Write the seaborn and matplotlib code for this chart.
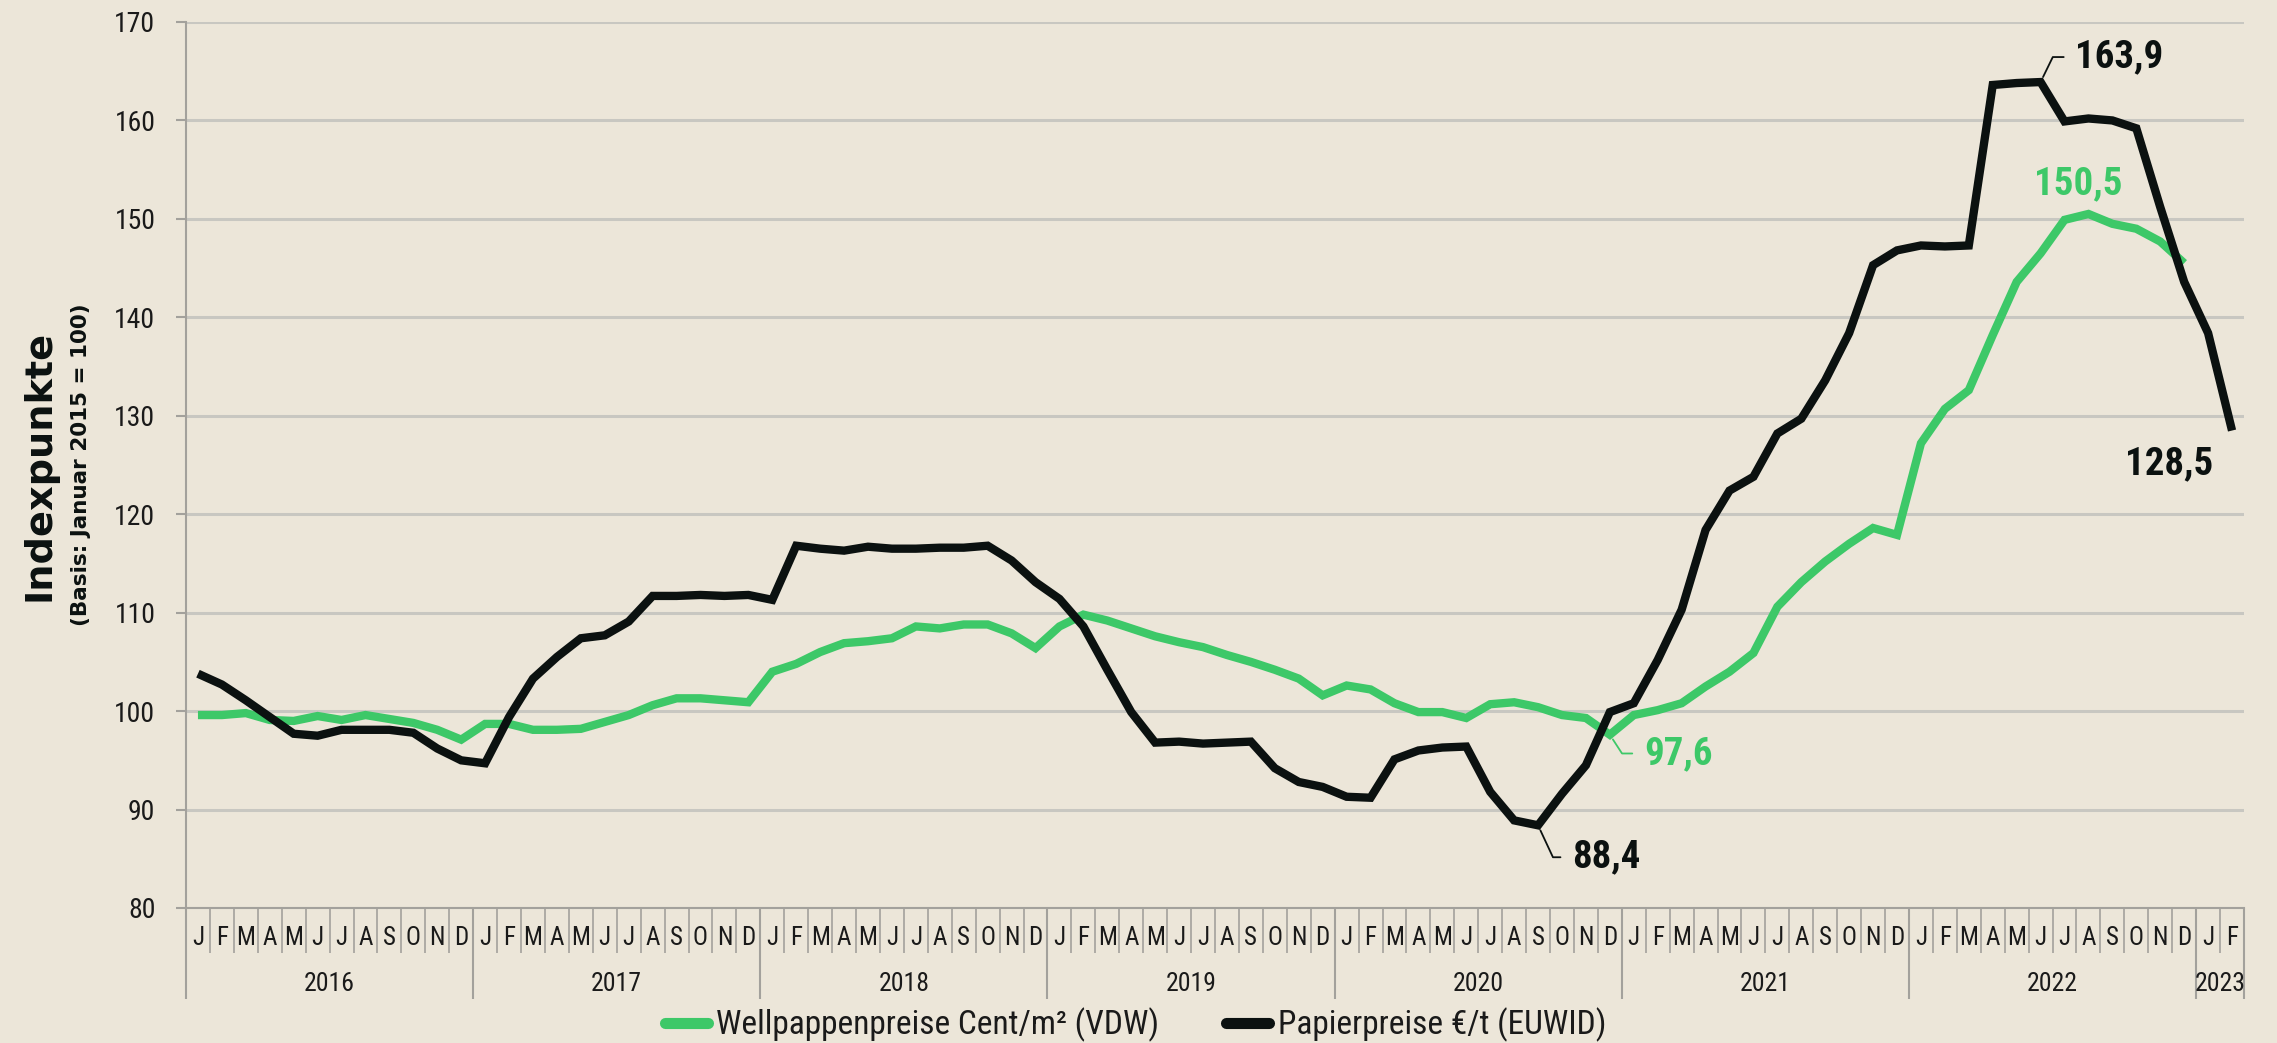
import numpy as np
import pandas as pd
import matplotlib
matplotlib.use("Agg")
import matplotlib.pyplot as plt
import seaborn as sns
from matplotlib import font_manager as fm

# ---------------- data ----------------
month_letters = ["J", "F", "M", "A", "M", "J", "J", "A", "S", "O", "N", "D"]
years = ["2016", "2017", "2018", "2019", "2020", "2021", "2022", "2023"]
months_per_year = [12, 12, 12, 12, 12, 12, 12, 2]
month_labels = month_letters * 7 + ["J", "F"]

wellpappe = [
    99.6, 99.6, 99.8, 99.1, 99.0, 99.5, 99.1, 99.6, 99.2, 98.8, 98.1, 97.1,
    98.7, 98.7, 98.1, 98.1, 98.2, 98.9, 99.6, 100.6, 101.3, 101.3, 101.1, 100.9,
    104.0, 104.8, 106.0, 106.9, 107.1, 107.4, 108.6, 108.4, 108.8, 108.8, 107.9, 106.4,
    108.6, 109.8, 109.2, 108.4, 107.6, 107.0, 106.5, 105.7, 105.0, 104.2, 103.3, 101.6,
    102.6, 102.2, 100.8, 99.9, 99.9, 99.3, 100.7, 100.9, 100.4, 99.6, 99.3, 97.6,
    99.6, 100.1, 100.8, 102.5, 104.0, 105.9, 110.6, 113.1, 115.2, 117.0, 118.6, 117.9,
    127.2, 130.7, 132.6, 138.2, 143.6, 146.5, 149.9, 150.5, 149.5, 149.0, 147.7, 145.5,
]
papier = [
    103.8, 102.7, 101.1, 99.4, 97.7, 97.5, 98.1, 98.1, 98.1, 97.8, 96.2, 95.0,
    94.7, 99.4, 103.3, 105.5, 107.4, 107.7, 109.1, 111.7, 111.7, 111.8, 111.7, 111.8,
    111.3, 116.8, 116.5, 116.3, 116.7, 116.5, 116.5, 116.6, 116.6, 116.8, 115.3, 113.1,
    111.4, 108.6, 104.2, 99.9, 96.8, 96.9, 96.7, 96.8, 96.9, 94.2, 92.8, 92.3,
    91.3, 91.2, 95.1, 96.0, 96.3, 96.4, 91.8, 88.9, 88.4, 91.6, 94.5, 99.9,
    100.8, 105.2, 110.3, 118.4, 122.4, 123.8, 128.2, 129.7, 133.6, 138.4, 145.3, 146.8,
    147.3, 147.2, 147.3, 163.6, 163.8, 163.9, 159.9, 160.2, 160.0, 159.2, 151.2, 143.6,
    138.4, 128.5,
]
label_well = "Wellpappenpreise Cent/m² (VDW)"
label_pap = "Papierpreise €/t (EUWID)"
ylabel_main = "Indexpunkte"
ylabel_sub = "(Basis: Januar 2015 = 100)"
y_ticks = [80, 90, 100, 110, 120, 130, 140, 150, 160, 170]

# ---------------- style ----------------
BG = "#ECE6D9"
GREEN = "#3DC868"
BLACK = "#0B1110"
GRID = "#C8C7C1"
AXC = "#A3A19C"
TXT = "#1A1A1A"

sns.set_theme(style="white")
names = {f.name for f in fm.fontManager.ttflist}
COND = None
for cand in ["Roboto Condensed", "Liberation Sans Narrow", "Open Sans Condensed", "Roboto"]:
    if cand in names:
        COND = cand
        break
BOLDF = "DejaVu Sans"
plt.rcParams["font.family"] = [COND, "DejaVu Sans"]

fig = plt.figure(figsize=(22.77, 10.43), dpi=100)
fig.patch.set_facecolor(BG)
ax = fig.add_axes([186 / 2277, 1 - 908 / 1043, (2244 - 186) / 2277, (908 - 22) / 1043])
ax.set_facecolor(BG)

x_w = np.arange(len(wellpappe))
x_p = np.arange(len(papier))
sns.lineplot(x=x_w, y=wellpappe, ax=ax, color=GREEN, linewidth=6, label=label_well,
             legend=False, zorder=3)
sns.lineplot(x=x_p, y=papier, ax=ax, color=BLACK, linewidth=6, label=label_pap,
             legend=False, zorder=4)
for ln in ax.lines:
    ln.set_solid_joinstyle("miter")
    ln.set_solid_capstyle("butt")

n = len(month_labels)
ax.set_xlim(-0.5, n - 0.5)
ax.set_ylim(80, 170)

# grid / spines
ax.set_yticks(y_ticks)
ax.yaxis.grid(True, color=GRID, linewidth=2.2, zorder=0)
ax.xaxis.grid(False)
for s in ["top", "right"]:
    ax.spines[s].set_visible(False)
for s in ["left", "bottom"]:
    ax.spines[s].set_color(AXC)
    ax.spines[s].set_linewidth(1.5)
ax.tick_params(axis="y", length=7, width=1.5, color=AXC, pad=15, labelsize=20,
               labelcolor=TXT, left=True)
ax.set_xlabel("")
ax.set_ylabel("")

# x ticks: year boundaries (major, long), month boundaries (minor, short)
bounds = np.cumsum([0] + months_per_year) - 0.5
ax.set_xticks(bounds)
ax.set_xticklabels([""] * len(bounds))
month_bounds = [b - 0.5 for b in range(1, n) if (b - 0.5) not in set(bounds)]
ax.set_xticks(month_bounds, minor=True)
ax.tick_params(axis="x", which="major", length=65.5, width=1.5, color=AXC, bottom=True)
ax.tick_params(axis="x", which="minor", length=32.5, width=1.2, color=AXC, bottom=True)

xt = ax.get_xaxis_transform()
for i, m in enumerate(month_labels):
    ax.text(i, -0.034, m, transform=xt, ha="center", va="center", fontsize=18,
            color=TXT)
for k, yr in enumerate(years):
    c = (bounds[k] + bounds[k + 1]) / 2
    ax.text(c, -0.0858, yr, transform=xt, ha="center", va="center", fontsize=18.5,
            color=TXT)

# axis titles
fig.text(40 / 2277, 1 - 465 / 1043, ylabel_main, rotation=90, ha="center", va="center",
         fontsize=27.5, fontweight="bold", family=BOLDF, color=BLACK)
fig.text(81 / 2277, 1 - 465 / 1043, ylabel_sub, rotation=90, ha="center", va="center",
         fontsize=15.5, fontweight="bold", family=BOLDF, color=BLACK)

# annotations
def note(idx, val, text, color, dx, dy, ha="left", angle=None):
    kw = dict(xy=(idx, val), xytext=(dx, dy), textcoords="offset points", ha=ha,
              va="center", fontsize=28, fontweight="bold", color=color, zorder=6)
    if angle is not None:
        kw["arrowprops"] = dict(arrowstyle="-", color=color, lw=1.3, relpos=(0, 0.5),
                                shrinkA=6, shrinkB=4,
                                connectionstyle=f"angle,angleA=0,angleB={angle},rad=0")
    ax.annotate(text, **kw)

fmt = lambda v: f"{v:.1f}".replace(".", ",")
i_pmax = int(np.argmax(papier))
i_pmin = int(np.argmin(papier))
i_wmax = int(np.argmax(wellpappe))
i_wmin = 48 + int(np.argmin(wellpappe[48:72]))
i_plast = len(papier) - 1
note(i_pmax, papier[i_pmax], fmt(papier[i_pmax]), BLACK, 25, 18, angle=64)
note(i_pmin, papier[i_pmin], fmt(papier[i_pmin]), BLACK, 24.5, -23, angle=-65)
note(i_wmin, wellpappe[i_wmin], fmt(wellpappe[i_wmin]), GREEN, 24.5, -13.5, angle=-57)
note(i_wmax, wellpappe[i_wmax], fmt(wellpappe[i_wmax]), GREEN, -7, 22, ha="center")
note(i_plast, papier[i_plast], fmt(papier[i_plast]), BLACK, -45, -24, ha="center")

# legend
handles = ax.lines[:2]
leg = fig.legend(handles, [label_well, label_pap], loc="center",
                 bbox_to_anchor=(0.4986, 0.0173), ncol=2, frameon=False, fontsize=24,
                 handlelength=1.3, handletextpad=0.25, columnspacing=2.0,
                 labelcolor=TXT, borderaxespad=0, borderpad=0)
for h in leg.legend_handles:
    h.set_linewidth(8)
    h.set_solid_capstyle("round")

fig.savefig("out.png", dpi=100, facecolor=BG)
